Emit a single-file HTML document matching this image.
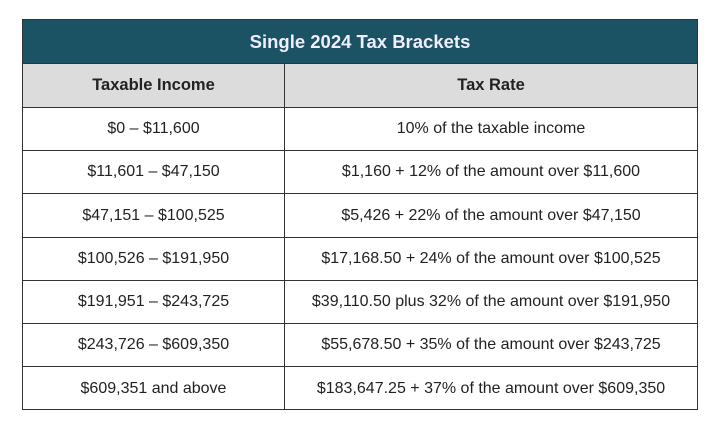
<!DOCTYPE html>
<html><head><meta charset="utf-8"><style>
body{margin:0;width:720px;height:431px;background:#fff;position:relative;font-family:"Liberation Sans",sans-serif;color:#222;overflow:hidden}
.t{position:absolute;left:22px;top:19px;width:674px;height:389px;border:1.5px solid #333;box-sizing:content-box}
.h{position:absolute;left:0;top:0;width:674px;height:43px;background:#1b5264;color:#eef;font-weight:bold;font-size:18.5px;line-height:43px;text-align:center}
.r{position:absolute;left:0;width:674px;border-top:1.5px solid #333;font-size:16px}
.r div{position:absolute;top:0;height:100%;display:flex;align-items:center;justify-content:center}
.a{left:0;width:261px;border-right:1.5px solid #333}
.b{left:262px;width:412px}
.g{background:#dcdcdc;font-weight:bold;font-size:16.5px}
</style></head><body>
<div class="t">
<div class="h">Single 2024 Tax Brackets</div>
<div class="r g" style="top:43px;height:43px"><div class="a">Taxable Income</div><div class="b">Tax Rate</div></div>
<div class="r" style="top:87px;height:42px"><div class="a">$0 – $11,600</div><div class="b">10% of the taxable income</div></div>
<div class="r" style="top:130px;height:42px"><div class="a">$11,601 – $47,150</div><div class="b">$1,160 + 12% of the amount over $11,600</div></div>
<div class="r" style="top:173px;height:43px"><div class="a">$47,151 – $100,525</div><div class="b">$5,426 + 22% of the amount over $47,150</div></div>
<div class="r" style="top:217px;height:42px"><div class="a">$100,526 – $191,950</div><div class="b">$17,168.50 + 24% of the amount over $100,525</div></div>
<div class="r" style="top:260px;height:42px"><div class="a">$191,951 – $243,725</div><div class="b">$39,110.50 plus 32% of the amount over $191,950</div></div>
<div class="r" style="top:303px;height:42px"><div class="a">$243,726 – $609,350</div><div class="b">$55,678.50 + 35% of the amount over $243,725</div></div>
<div class="r" style="top:346px;height:43px"><div class="a">$609,351 and above</div><div class="b">$183,647.25 + 37% of the amount over $609,350</div></div>
</div>
</body></html>
